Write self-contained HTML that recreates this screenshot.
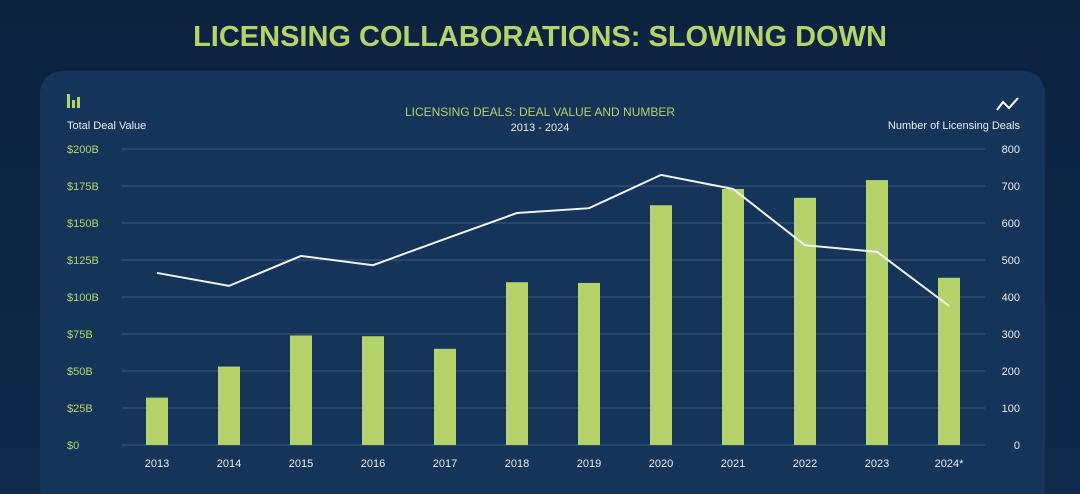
<!DOCTYPE html>
<html><head><meta charset="utf-8"><style>
body{margin:0;background:#0d2542;width:1080px;height:494px;overflow:hidden;font-family:"Liberation Sans",sans-serif}
svg{display:block}
</style></head><body>
<svg width="1080" height="494">
<defs><linearGradient id="bg" x1="0" y1="0" x2="0" y2="1"><stop offset="0" stop-color="#0c2340"/><stop offset="1" stop-color="#0f2a4b"/></linearGradient></defs>
<rect width="1080" height="494" fill="url(#bg)"/>
<rect x="40" y="71" width="1005" height="440" rx="22" fill="#14345a"/>
<text x="540" y="46" text-anchor="middle" fill="#b5d36a" font-size="29" font-weight="bold">LICENSING COLLABORATIONS: SLOWING DOWN</text>
<text x="540" y="116" text-anchor="middle" fill="#b5d36a" font-size="12">LICENSING DEALS: DEAL VALUE AND NUMBER</text>
<text x="540" y="131" text-anchor="middle" fill="#e8eef5" font-size="11">2013 - 2024</text>
<g fill="#b5d36a"><rect x="67" y="94" width="3" height="14"/><rect x="72" y="100" width="3" height="8"/><rect x="77" y="97" width="3" height="11"/></g>
<text x="67" y="129" fill="#e8eef5" font-size="11">Total Deal Value</text>
<polyline points="997,110 1003,102 1009,108 1018,98" fill="none" stroke="#fff" stroke-width="2"/>
<text x="1020" y="129" text-anchor="end" fill="#e8eef5" font-size="11">Number of Licensing Deals</text>
<g id="grid"></g><g id="bars"></g><g id="line"></g><g id="labels"></g>
</svg>
<script>
const years=["2013","2014","2015","2016","2017","2018","2019","2020","2021","2022","2023","2024*"];
const dealValues=[32,53,74,73.5,65,110,109.5,162,173,167,179,113];
const dealCounts=[465,430,511,486,557,627,640,730,692,540,522,376];
const leftTicks=["$0","$25B","$50B","$75B","$100B","$125B","$150B","$175B","$200B"];
const rightTicks=["0","100","200","300","400","500","600","700","800"];
const NS="http://www.w3.org/2000/svg";
const y0=445,y1=149;
const yL=v=>y0-(v/200)*(y0-y1);
const yR=v=>y0-(v/800)*(y0-y1);
const xC=i=>157+i*72;
function mk(tag,attrs,parent,txt){const e=document.createElementNS(NS,tag);for(const k in attrs)e.setAttribute(k,attrs[k]);if(txt!==undefined)e.textContent=txt;document.getElementById(parent).appendChild(e);return e;}
leftTicks.forEach((t,i)=>{
  const y=yL(i*25);
  const g=mk('line',{x1:122,x2:985,y1:y,y2:y,stroke:'#3d5a7c','stroke-width':1},'grid');
  
  
  const a=mk('text',{x:67,y:y+4,fill:'#b5d36a','font-size':11},'labels',t);
  
  
  const b=mk('text',{x:1020,y:y+4,fill:'#e8eef5','font-size':11,'text-anchor':'end'},'labels',rightTicks[i]);
  
  
});
years.forEach((yr,i)=>{
  const r=mk('rect',{x:xC(i)-11,y:yL(dealValues[i]),width:22,height:y0-yL(dealValues[i]),fill:'#b5d36a'},'bars');
  
  
  const t=mk('text',{x:xC(i),y:467,fill:'#e8eef5','font-size':11,'text-anchor':'middle'},'labels',yr);
  
  
});
const pl=mk('polyline',{points:dealCounts.map((v,i)=>xC(i)+','+yR(v)).join(' '),fill:'none',stroke:'#f2f5f8','stroke-width':2},'line');


</script>
</body></html>
